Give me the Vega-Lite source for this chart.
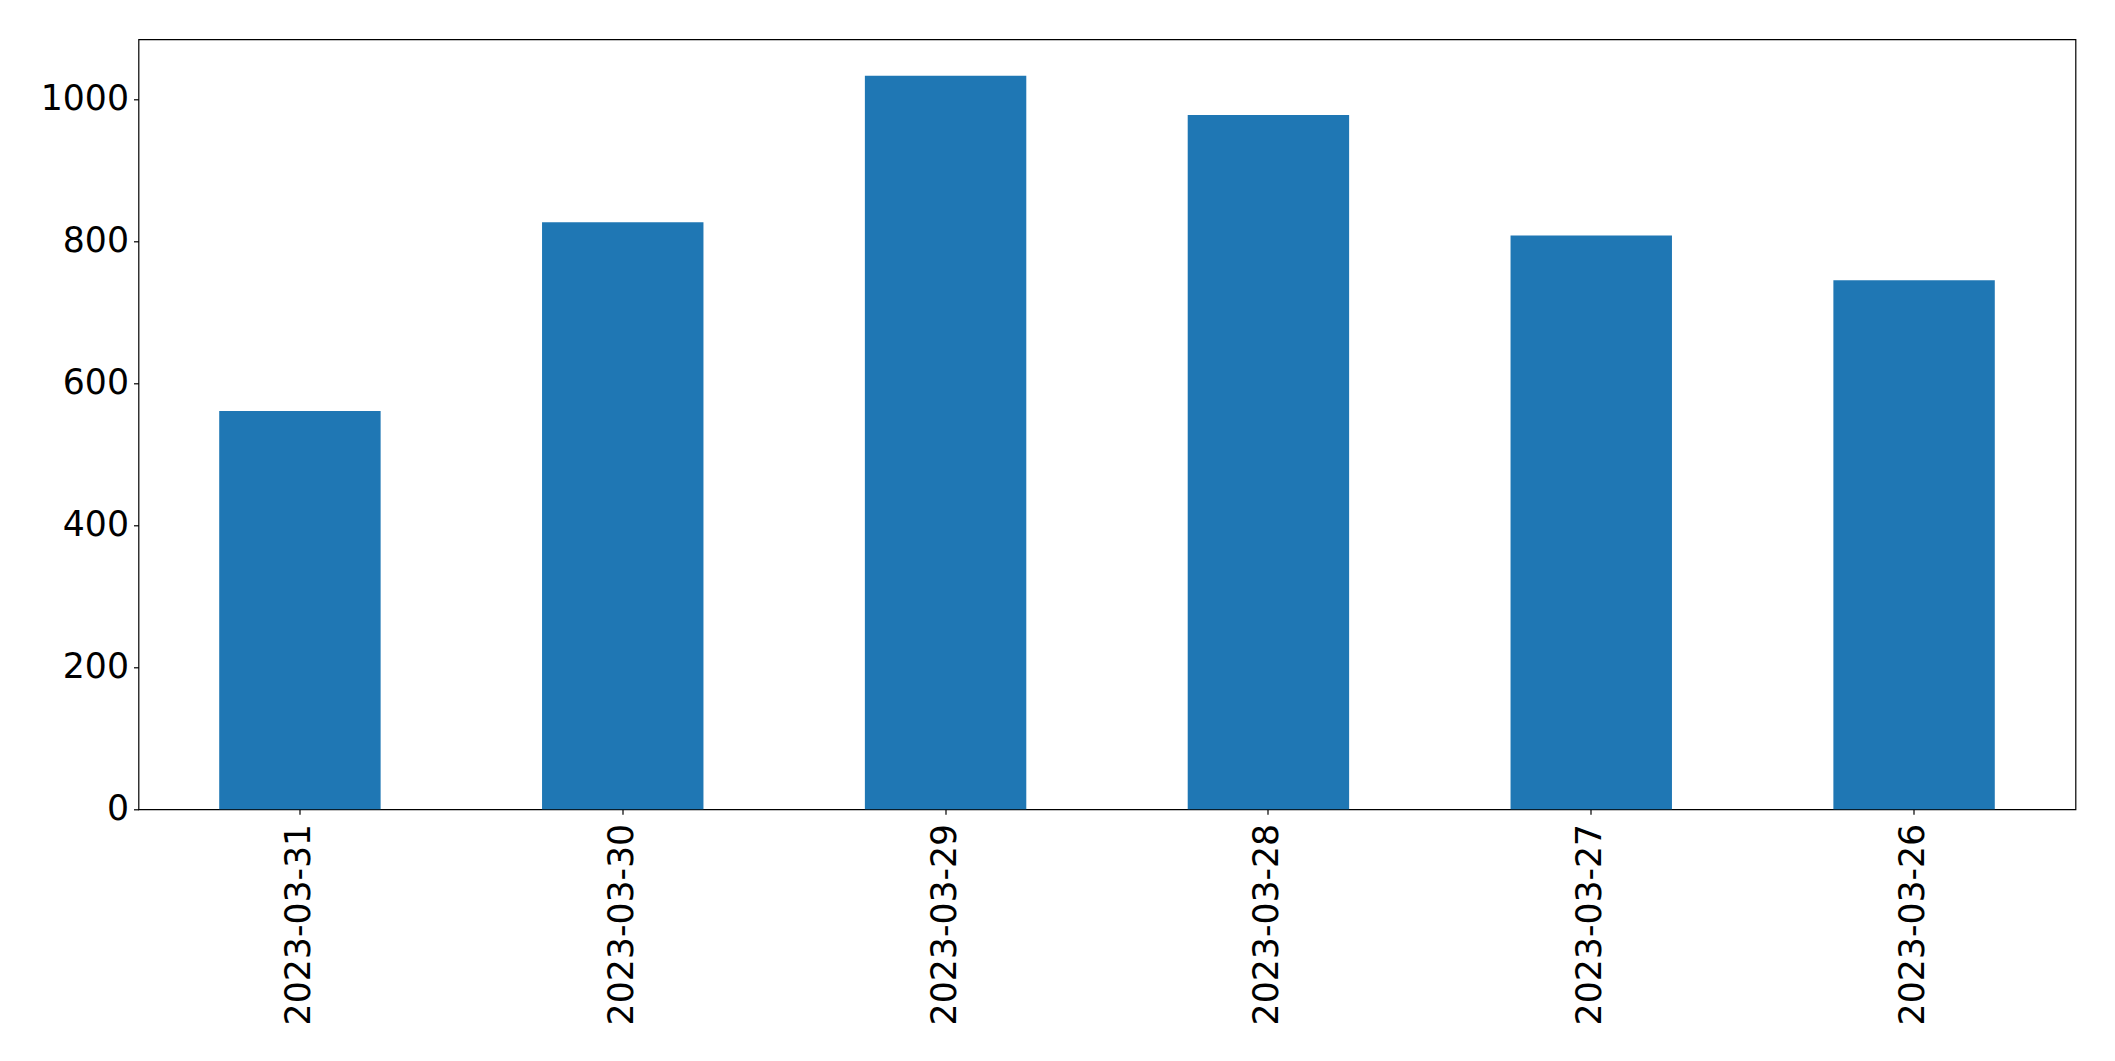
{
  "$schema": "https://vega.github.io/schema/vega-lite/v6.json",
  "width": 1937,
  "height": 770,
  "autosize": {"type": "none"},
  "padding": {"left": 138.5, "top": 39.3, "right": 39.5, "bottom": 251.7},
  "background": "white",
  "config": {
    "view": {"stroke": "#000000", "strokeWidth": 1.2, "strokeOpacity": 1},
    "font": "DejaVu Sans"
  },
  "data": {
    "values": [
      {"date": "2023-03-31", "value": 561},
      {"date": "2023-03-30", "value": 827},
      {"date": "2023-03-29", "value": 1033},
      {"date": "2023-03-28", "value": 978},
      {"date": "2023-03-27", "value": 808},
      {"date": "2023-03-26", "value": 745}
    ]
  },
  "mark": {"type": "bar", "color": "#1f77b4"},
  "encoding": {
    "x": {
      "field": "date",
      "type": "nominal",
      "sort": null,
      "title": null,
      "scale": {"paddingInner": 0.5, "paddingOuter": 0.25},
      "axis": {
        "labelAngle": -90, "labelAlign": "right", "labelBaseline": "middle",
        "labelPadding": 9, "labelFontSize": 34.7, "labelFont": "DejaVu Sans",
        "labelColor": "black", "tickColor": "black", "tickWidth": 1.2, "tickSize": 5,
        "domain": false, "grid": false, "labelOverlap": false, "labelLimit": 0
      }
    },
    "y": {
      "field": "value",
      "type": "quantitative",
      "title": null,
      "scale": {"domain": [0, 1084.5], "nice": false, "zero": true},
      "axis": {
        "values": [0, 200, 400, 600, 800, 1000], "format": "d",
        "labelFontSize": 34.7, "labelFont": "DejaVu Sans", "labelColor": "black",
        "tickColor": "black", "tickWidth": 1.2, "tickSize": 5, "labelPadding": 5,
        "domain": false, "grid": false, "labelOverlap": false, "labelFlush": false
      }
    }
  }
}
